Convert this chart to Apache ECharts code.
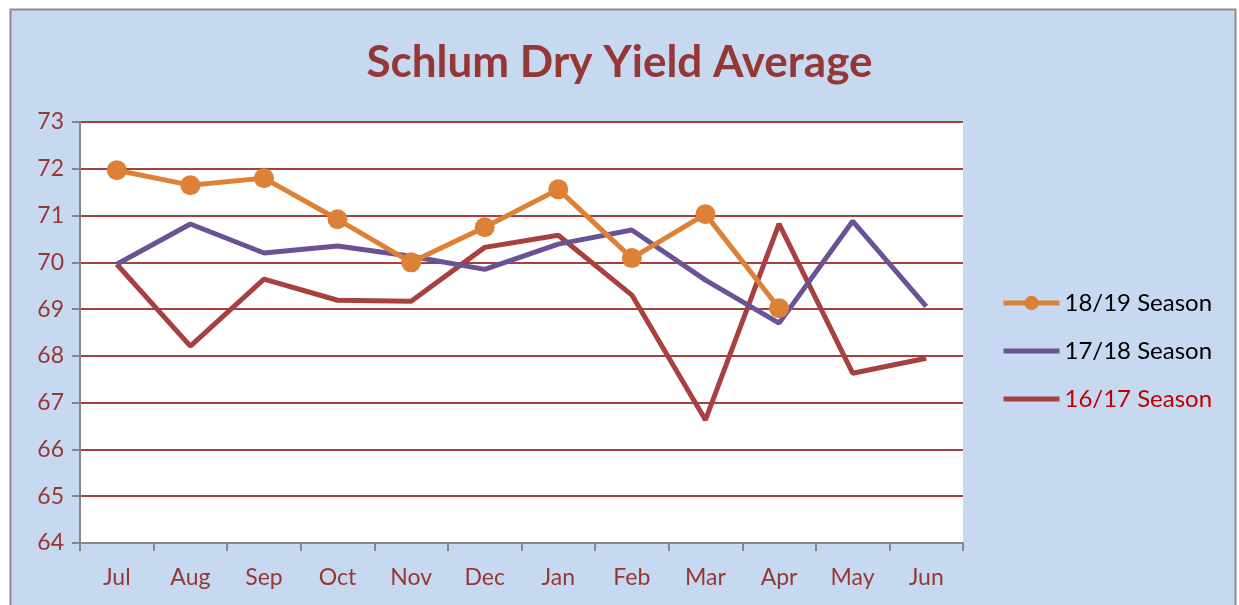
<!DOCTYPE html>
<html><head><meta charset="utf-8">
<script src="https://cdn.jsdelivr.net/npm/echarts@6/dist/echarts.min.js"></script>
<style>html,body{margin:0;padding:0;background:#fff;}#c{width:1239px;height:605px;}</style>
</head><body><div id="c"></div>
<script>
const months = ['Jul','Aug','Sep','Oct','Nov','Dec','Jan','Feb','Mar','Apr','May','Jun'];
const s1819 = [71.97,71.65,71.80,70.92,70.00,70.75,71.56,70.09,71.03,69.02,null,null];
const s1718 = [69.96,70.82,70.20,70.35,70.13,69.85,70.39,70.69,69.62,68.70,70.88,69.06];
const s1617 = [69.96,68.21,69.64,69.19,69.17,70.32,70.58,69.30,66.63,70.82,67.63,67.95];
const names = ['18/19 Season','17/18 Season','16/17 Season'];
const yTicks = {min:64,max:73,interval:1};

const chart = echarts.init(document.getElementById('c'));
const lbl = '#953735';
const font = 'Lato, "Open Sans", sans-serif';
chart.setOption({
  backgroundColor:'#fff',
  animation:false,
  graphic:[{type:'rect',z:-10,shape:{x:10.5,y:9.5,width:1225,height:610},style:{fill:'#c6d9f1',stroke:'#8c8c8c',lineWidth:2}}],
  title:{text:'Schlum Dry Yield Average',left:'center',top:36,
    textStyle:{color:'#953735',fontSize:44,fontWeight:'bold',fontFamily:font}},
  legend:{orient:'vertical',left:996,top:286,itemWidth:56,itemHeight:18,itemGap:24,
    lineStyle:{width:5},
    textStyle:{fontSize:24,fontFamily:font,color:'#000'},
    data:[{name:names[0]},
          {name:names[1],itemStyle:{opacity:0}},
          {name:names[2],itemStyle:{opacity:0},textStyle:{color:'#c00000'}}]},
  grid:{left:80,top:122,width:883,height:421,show:true,backgroundColor:'#fff',borderWidth:0,containLabel:false},
  xAxis:{type:'category',data:months,boundaryGap:true,
    axisLine:{lineStyle:{color:'#868686',width:2}},
    axisTick:{show:true,length:8,lineStyle:{color:'#868686',width:2}},
    axisLabel:{color:lbl,fontSize:23,fontFamily:font,margin:23},
    splitLine:{show:false}},
  yAxis:{type:'value',min:yTicks.min,max:yTicks.max,interval:yTicks.interval,
    axisLine:{show:true,lineStyle:{color:'#868686',width:2}},
    axisTick:{show:true,length:8,lineStyle:{color:'#868686',width:2}},
    axisLabel:{color:lbl,fontSize:23,fontFamily:font,margin:16},
    splitLine:{show:true,lineStyle:{color:'#a5403d',width:2}}},
  series:[
    {name:names[0],type:'line',data:s1819,symbol:'circle',symbolSize:20,showSymbol:true,
     itemStyle:{color:'#dd8137'},lineStyle:{color:'#dd8137',width:5},z:5},
    {name:names[1],type:'line',data:s1718,symbol:'none',
     itemStyle:{color:'#6a5394'},lineStyle:{color:'#6a5394',width:5},z:4},
    {name:names[2],type:'line',data:s1617,symbol:'none',
     itemStyle:{color:'#a6413f'},lineStyle:{color:'#a6413f',width:5},z:3}
  ]
});
</script></body></html>
